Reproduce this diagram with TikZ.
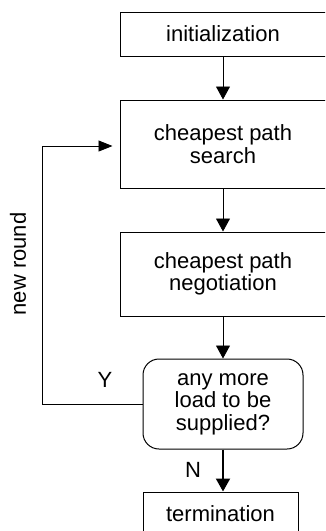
\documentclass[tikz,border=0pt]{standalone}
\usepackage{fontspec}
\setmainfont{Liberation Sans}
\usetikzlibrary{arrows.meta}
\begin{document}
\begin{tikzpicture}[x=1pt,y=-1pt,
  box/.style={draw, line width=1pt, font=\fontsize{22}{22.5}\selectfont, align=center, inner sep=0pt},
  flow/.style={-{Triangle[length=13pt,width=14pt]}, line width=0.9pt},
  loopline/.style={-{Triangle[length=14pt,width=11pt]}, line width=0.8pt},
  lbl/.style={font=\fontsize{22}{22.5}\selectfont}]
\useasboundingbox (0,0) rectangle (325,531);
\clip (0,0) rectangle (325,531);
\node[box, minimum width=206pt, minimum height=44pt] (init) at (223,34) {initialization};
\node[box, minimum width=206pt, minimum height=88pt] (search) at (223,144) {cheapest path\\search};
\node[box, minimum width=206pt, minimum height=84pt] (negot) at (223,274) {cheapest path\\negotiation};
\node[box, rounded corners=16pt, minimum width=160pt, minimum height=90pt] (dec) at (223,404) {any more\\load to be\\supplied?};
\node[box, minimum width=155pt, minimum height=43pt] (term) at (220.5,513.5) {termination};
\draw[flow] (init.south) -- (search.north);
\draw[flow] (search.south) -- (negot.north);
\draw[flow] (negot.south) -- (dec.north);
\draw[flow, line width=2pt] (dec.south) -- (dec.south |- term.north);
\coordinate (lt) at (42,146);
\draw[loopline, shorten >=7pt] (dec.west) -| (lt) -- (search.west |- lt);
\node[lbl] (y) at (105,380) {Y};
\node[lbl] (n) at (193,470) {N};
\node[lbl, rotate=90] (nr) at (18,264) {new round};
\end{tikzpicture}
\end{document}
